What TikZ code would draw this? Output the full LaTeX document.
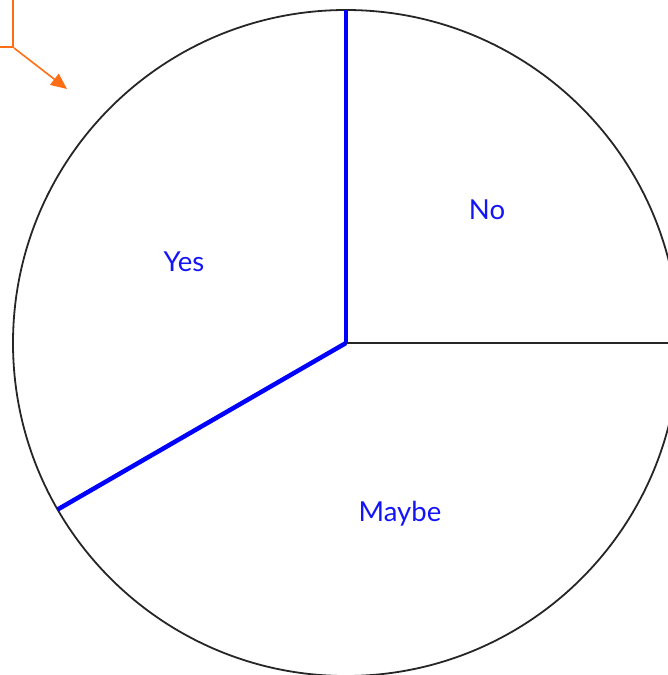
\documentclass[tikz,border=0pt]{standalone}
\usepackage{fontspec}
\setmainfont{Lato}
\usetikzlibrary{arrows.meta}
\definecolor{piblue}{RGB}{20,20,250}
\definecolor{pieorange}{RGB}{255,110,20}
\tikzset{
  lbl/.style={text=piblue, font=\fontsize{27.5}{32}\selectfont, inner sep=0pt},
  bluesplit/.style={draw=blue, line width=4.5pt},
  rim/.style={draw=black!85, line width=1.8pt},
  callout/.style={draw=pieorange, line width=2.5pt},
  pointer/.style={draw=pieorange, line width=1.6pt, -{Triangle[length=16pt,width=14pt]}}
}
\begin{document}
\begin{tikzpicture}[x=1pt,y=-1pt]
\useasboundingbox (0,0) rectangle (668,675);
\clip (0,0) rectangle (668,675);
\coordinate (c) at (346,343);
\draw[rim] (c) circle (333);
\draw[rim, line width=2.2pt] (c) -- ++(340,0);
\draw[bluesplit] (c) -- (346,10);
\draw[bluesplit] (c) -- ++(150:333);
\node[callout, minimum width=60pt, minimum height=60pt, anchor=south east] (box) at (14,48) {};
\coordinate (tip) at (67,89);
\draw[pointer] (box.south east) -- (tip);
\node[lbl] (no) at (487,210) {No};
\node[lbl] (yes) at (184,262) {Yes};
\node[lbl] (maybe) at (400,514) {Maybe};
\end{tikzpicture}
\end{document}
